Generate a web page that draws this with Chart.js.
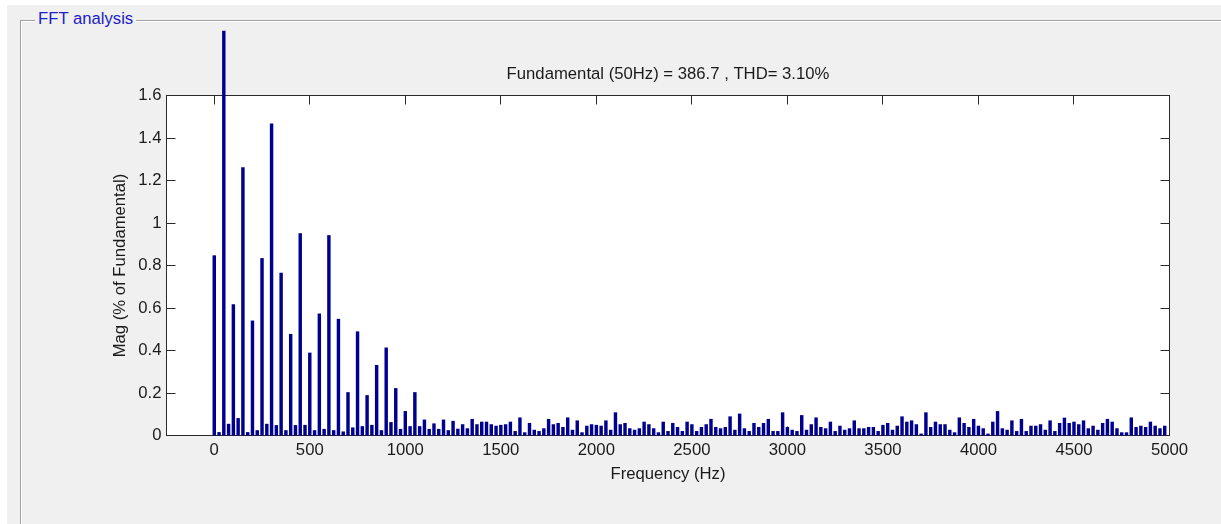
<!DOCTYPE html>
<html>
<head>
<meta charset="utf-8">
<script src="https://cdn.jsdelivr.net/npm/chart.js@4/dist/chart.umd.min.js"></script>
<style>
  html, body { margin:0; padding:0; width:1221px; height:524px; overflow:hidden; background:#ffffff; }
  #bg { position:absolute; left:7px; top:5px; right:0; bottom:0; background:#f0f0f0; }
  #panel { position:absolute; left:20px; top:20px; width:1300px; height:600px; border-top:1px solid #a0a0a0; border-left:1px solid #a0a0a0; }
  #panel2 { position:absolute; left:21px; top:21px; width:1300px; height:600px; border-top:1px solid #ffffff; border-left:1px solid #ffffff; }
  #legend { position:absolute; left:35px; top:11px; padding:0 3px; background:#f0f0f0; font:16.7px/1 'Liberation Sans', Arial, sans-serif; color:#2020c8; white-space:nowrap; }
  #c { position:absolute; left:0; top:0; }
</style>
</head>
<body>
<div id="bg"></div>
<div id="panel"></div>
<div id="panel2"></div>
<div id="legend">FFT analysis</div>
<canvas id="c" width="1221" height="524"></canvas>
<script>
// ---- data ----
const FREQUENCIES = [
  0,25,50,75,100,125,150,175,200,225,250,275,300,325,350,375,400,425,450,475,
  500,525,550,575,600,625,650,675,700,725,750,775,800,825,850,875,900,925,950,975,
  1000,1025,1050,1075,1100,1125,1150,1175,1200,1225,1250,1275,1300,1325,1350,1375,1400,1425,1450,1475,
  1500,1525,1550,1575,1600,1625,1650,1675,1700,1725,1750,1775,1800,1825,1850,1875,1900,1925,1950,1975,
  2000,2025,2050,2075,2100,2125,2150,2175,2200,2225,2250,2275,2300,2325,2350,2375,2400,2425,2450,2475,
  2500,2525,2550,2575,2600,2625,2650,2675,2700,2725,2750,2775,2800,2825,2850,2875,2900,2925,2950,2975,
  3000,3025,3050,3075,3100,3125,3150,3175,3200,3225,3250,3275,3300,3325,3350,3375,3400,3425,3450,3475,
  3500,3525,3550,3575,3600,3625,3650,3675,3700,3725,3750,3775,3800,3825,3850,3875,3900,3925,3950,3975,
  4000,4025,4050,4075,4100,4125,4150,4175,4200,4225,4250,4275,4300,4325,4350,4375,4400,4425,4450,4475,
  4500,4525,4550,4575,4600,4625,4650,4675,4700,4725,4750,4775,4800,4825,4850,4875,4900,4925,4950,4975
];
const MAGNITUDES = [
  0.848,0.016,1.905,0.055,0.618,0.082,1.263,0.016,0.541,0.025,0.835,0.055,1.468,0.049,0.766,0.025,0.478,0.049,0.952,0.050,
  0.390,0.025,0.574,0.031,0.943,0.025,0.549,0.019,0.204,0.038,0.490,0.044,0.190,0.050,0.332,0.025,0.414,0.063,0.223,0.031,
  0.115,0.044,0.204,0.044,0.075,0.031,0.057,0.031,0.075,0.025,0.069,0.032,0.053,0.034,0.078,0.053,0.065,0.065,0.053,0.046,
  0.050,0.053,0.065,0.021,0.085,0.015,0.059,0.027,0.021,0.034,0.078,0.053,0.059,0.040,0.085,0.027,0.071,0.015,0.046,0.053,
  0.050,0.046,0.071,0.027,0.109,0.053,0.059,0.034,0.027,0.034,0.065,0.053,0.034,0.015,0.065,0.021,0.059,0.040,0.021,0.065,
  0.053,0.021,0.040,0.053,0.078,0.040,0.034,0.040,0.090,0.027,0.103,0.034,0.021,0.059,0.040,0.059,0.078,0.021,0.021,0.109,
  0.040,0.027,0.021,0.096,0.027,0.053,0.085,0.040,0.034,0.065,0.021,0.046,0.027,0.034,0.071,0.034,0.034,0.040,0.040,0.021,
  0.050,0.059,0.027,0.046,0.090,0.065,0.071,0.053,0.009,0.109,0.040,0.065,0.053,0.053,0.027,0.015,0.085,0.059,0.040,0.078,
  0.046,0.034,0.009,0.065,0.115,0.034,0.027,0.071,0.021,0.078,0.021,0.046,0.046,0.053,0.027,0.071,0.021,0.059,0.084,0.059,
  0.065,0.053,0.071,0.034,0.046,0.027,0.059,0.078,0.065,0.034,0.015,0.015,0.085,0.040,0.046,0.040,0.065,0.046,0.034,0.046
];
const X_TICKS = [0,500,1000,1500,2000,2500,3000,3500,4000,4500,5000];
const X_TICK_LABELS = ['0','500','1000','1500','2000','2500','3000','3500','4000','4500','5000'];
const Y_TICKS = [0,0.2,0.4,0.6,0.8,1.0,1.2,1.4,1.6];
const Y_TICK_LABELS = ['0','0.2','0.4','0.6','0.8','1','1.2','1.4','1.6'];
const X_RANGE = [-250, 5000];
const Y_RANGE = [0, 1.6];
const TITLE = 'Fundamental (50Hz) = 386.7 , THD= 3.10%';
const X_LABEL = 'Frequency (Hz)';
const Y_LABEL = 'Mag (% of Fundamental)';

// ---- styles ----
const FONT = { family: "'Liberation Sans', Arial, sans-serif", size: 16.7, lineHeight: 1.2 };
const TEXT_COLOR = '#1a1a1a';
const BAR_COLOR = '#00008f';
const AXIS_COLOR = '#2a2a2a';
const TICK_LEN = 9;

Chart.defaults.font.family = FONT.family;
Chart.defaults.font.size = FONT.size;
Chart.defaults.color = TEXT_COLOR;

const crisp = v => Math.round(v - 0.5) + 0.5;

const matlabAxes = {
  id: 'matlabAxes',
  beforeDraw(chart) {
    const { ctx, chartArea: a } = chart;
    ctx.save();
    ctx.fillStyle = '#ffffff';
    ctx.fillRect(a.left, a.top, a.right - a.left, a.bottom - a.top);
    ctx.restore();
  },
  beforeDatasetsDraw(chart) {
    const { ctx, chartArea: a, scales: { x, y } } = chart;
    const L = crisp(a.left), R = crisp(a.right), T = crisp(a.top), B = crisp(a.bottom);
    ctx.save();
    ctx.strokeStyle = AXIS_COLOR;
    ctx.lineWidth = 1;
    ctx.strokeRect(L, T, R - L, B - T);
    ctx.beginPath();
    x.ticks.forEach(t => {
      const px = crisp(x.getPixelForValue(t.value));
      ctx.moveTo(px, B); ctx.lineTo(px, B - TICK_LEN);
      ctx.moveTo(px, T); ctx.lineTo(px, T + TICK_LEN);
    });
    y.ticks.forEach(t => {
      const py = crisp(y.getPixelForValue(t.value));
      ctx.moveTo(L, py); ctx.lineTo(L + TICK_LEN, py);
      ctx.moveTo(R, py); ctx.lineTo(R - TICK_LEN, py);
    });
    ctx.stroke();
    ctx.restore();
  }
};

new Chart(document.getElementById('c'), {
  type: 'bar',
  data: {
    datasets: [{
      data: FREQUENCIES.map((f, i) => ({ x: f, y: MAGNITUDES[i] })),
      backgroundColor: BAR_COLOR,
      borderWidth: 0,
      barPercentage: 0.72,
      categoryPercentage: 1.0,
      clip: false
    }]
  },
  options: {
    responsive: false,
    devicePixelRatio: 1,
    animation: false,
    events: [],
    layout: { padding: { left: 100, right: 51.5, top: 0, bottom: 36 } },
    plugins: {
      legend: { display: false },
      tooltip: { enabled: false },
      title: {
        display: true,
        fullSize: false,
        text: TITLE,
        color: TEXT_COLOR,
        font: { ...FONT, weight: 'normal' },
        padding: { top: 64, bottom: 11.5 }
      }
    },
    scales: {
      x: {
        type: 'linear',
        min: X_RANGE[0],
        max: X_RANGE[1],
        offset: false,
        grid: { display: false, drawTicks: false, offset: false },
        border: { display: false },
        afterBuildTicks: s => { s.ticks = X_TICKS.map(v => ({ value: v })); },
        afterFit: s => { s.height = 52.5; },
        ticks: {
          autoSkip: false, maxRotation: 0, minRotation: 0, padding: 5,
          color: TEXT_COLOR, font: FONT,
          callback: (v, i) => X_TICK_LABELS[i]
        },
        title: { display: true, text: X_LABEL, color: TEXT_COLOR, font: FONT, padding: { top: 4, bottom: 4 } }
      },
      y: {
        type: 'linear',
        min: Y_RANGE[0],
        max: Y_RANGE[1],
        grid: { display: false, drawTicks: false },
        border: { display: false },
        afterBuildTicks: s => { s.ticks = Y_TICKS.map(v => ({ value: v })); },
        afterFit: s => { s.width = 66.5; },
        ticks: {
          padding: 5, color: TEXT_COLOR, font: FONT,
          callback: (v, i) => Y_TICK_LABELS[i]
        },
        title: { display: true, text: Y_LABEL, color: TEXT_COLOR, font: FONT, padding: { top: 10.5, bottom: 4 } }
      }
    }
  },
  plugins: [matlabAxes]
});
</script>
</body>
</html>
